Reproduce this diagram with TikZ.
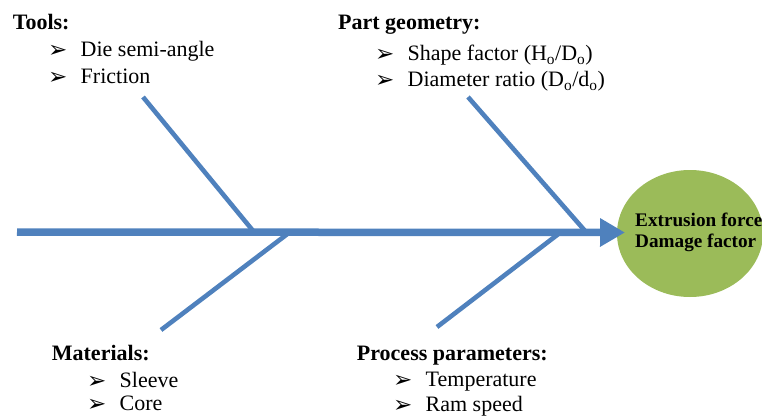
\documentclass[tikz,border=0pt]{standalone}
\usepackage{fontspec}
\setmainfont{Liberation Serif}
\newfontfamily\dejavu{DejaVu Sans}
\usetikzlibrary{arrows.meta,shapes.geometric}
\definecolor{spineblue}{HTML}{4F81BD}
\definecolor{effgreen}{HTML}{9BBB59}
\newcommand\bulitem[1]{\makebox[32.5pt][l]{\smash{\raisebox{-1pt}{\dejavu\fontsize{23}{23}\selectfont ➢}}}#1}
\begin{document}
\begin{tikzpicture}[x=1pt,y=-1pt,
  spine/.style={draw=spineblue, line width=7.5pt, -{Triangle[length=25pt,width=27pt]}, color=spineblue},
  bone/.style={draw=spineblue, line width=4.6pt},
  head/.style={anchor=base west, inner sep=0pt, font=\fontsize{22}{26}\selectfont\bfseries},
  entry/.style={anchor=base west, inner sep=0pt, font=\fontsize{22}{26}\selectfont},
  effect/.style={ellipse, fill=effgreen, minimum width=146pt, minimum height=127pt, inner sep=0pt},
  efftext/.style={anchor=base west, inner sep=0pt, font=\fontsize{19.2}{20.5}\selectfont\bfseries}]
\useasboundingbox (0,0) rectangle (762,417);
% effect
\node[effect] (eff) at (690,233.5) {};
\node[efftext] (efft1) at (635,226.7) {Extrusion force};
\node[efftext] (efft2) at (635,247.2) {Damage factor};
% bones
\coordinate (t0) at (143,97);  \coordinate (t1) at (254,232);
\coordinate (m0) at (161,330); \coordinate (m1) at (290,232);
\coordinate (g0) at (468,97);  \coordinate (g1) at (586,232);
\coordinate (p0) at (437,327); \coordinate (p1) at (561,232);
\draw[bone] (t0) -- (t1);
\draw[bone] (m0) -- (m1);
\draw[bone] (g0) -- (g1);
\draw[bone] (p0) -- (p1);
% spine
\coordinate (tail) at (17,232);
\coordinate (tip) at (625,232.5);
\draw[spine] (tail) -- (tip);
% labels
\node[head] (toolsh) at (12.7,29.3) {Tools:};
\node[entry] (tools1) at (48,57) {\bulitem{Die semi-angle}};
\node[entry] (tools2) at (48,83.5) {\bulitem{Friction}};
\node[head] (geoh) at (338,29.3) {Part geometry:};
\node[entry] (geo1) at (375,61) {\bulitem{Shape factor (H\textsubscript{o}/D\textsubscript{o})}};
\node[entry] (geo2) at (375,87) {\bulitem{Diameter ratio (D\textsubscript{o}/d\textsubscript{o})}};
\node[head] (math) at (51.7,360.7) {Materials:};
\node[entry] (mat1) at (87,387.3) {\bulitem{Sleeve}};
\node[entry] (mat2) at (87,410.5) {\bulitem{Core}};
\node[head] (proch) at (356.7,360) {Process parameters:};
\node[entry] (proc1) at (393,386.7) {\bulitem{Temperature}};
\node[entry] (proc2) at (393,411.5) {\bulitem{Ram speed}};
\end{tikzpicture}
\end{document}
